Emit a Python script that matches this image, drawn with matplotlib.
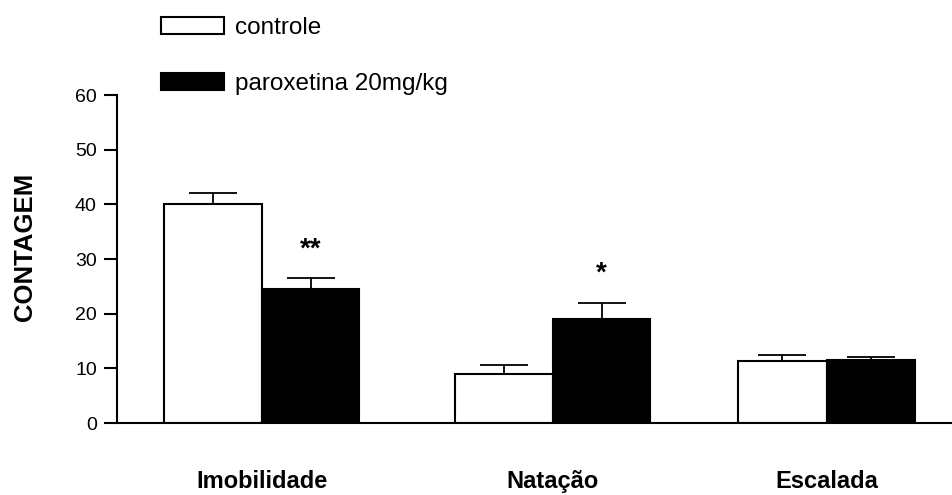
import matplotlib
matplotlib.use('Agg')
import matplotlib.pyplot as plt
import numpy as np

plt.rcParams['font.family'] = ['Liberation Sans', 'DejaVu Sans']

# dados
grupos = ['Imobilidade', 'Natação', 'Escalada']
controle = [40, 9, 11.3]
controle_ep = [2.1, 1.6, 1.1]
paroxetina = [24.5, 19, 11.5]
paroxetina_ep = [2.0, 3.0, 0.6]
signif = ['**', '*', '']
legendas = ['controle', 'paroxetina 20mg/kg']
yticks = [0, 10, 20, 30, 40, 50, 60]

# posicoes dos grupos e largura das barras
pos = np.array([0, 1, 1.94])
larg = np.array([0.335, 0.335, 0.305])

fig = plt.figure(figsize=(9.52, 4.95), dpi=100)
ax = fig.add_axes([117/952, 1-423/495, 1-117/952, 328/495])

zeros = np.zeros(len(grupos))
b1 = ax.bar(pos - larg/2, controle, width=larg, color='white', edgecolor='black',
            linewidth=1.5, label=legendas[0])
b2 = ax.bar(pos + larg/2, paroxetina, width=larg, color='black', edgecolor='black',
            linewidth=1.5, label=legendas[1])
ax.errorbar(pos - larg/2, controle, yerr=[zeros, controle_ep], fmt='none',
            ecolor='black', elinewidth=1.3, capsize=17, capthick=1.3)
ax.errorbar(pos + larg/2, paroxetina, yerr=[zeros, paroxetina_ep], fmt='none',
            ecolor='black', elinewidth=1.3, capsize=17, capthick=1.3)

for i in range(len(grupos)):
    if signif[i]:
        ax.text(pos[i] + larg[i]/2, paroxetina[i] + paroxetina_ep[i] + 4.0, signif[i],
                ha='center', va='baseline', fontsize=20, fontweight='bold')

ax.set_xlim(-0.498, 2.371)
ax.set_ylim(0, 60)
ax.set_yticks(yticks)
ax.set_yticklabels([str(t) for t in yticks], fontsize=14)
ax.set_xticks(pos)
ax.set_xticklabels(grupos, fontsize=17, fontweight='bold')
ax.tick_params(axis='x', length=0, pad=34)
ax.tick_params(axis='y', direction='out', length=9.5, width=1.5, pad=5)

for s in ['top', 'right']:
    ax.spines[s].set_visible(False)
ax.spines['left'].set_linewidth(1.5)
ax.spines['bottom'].set_linewidth(1.5)

ax.set_ylabel('CONTAGEM', fontsize=18.5, fontweight='bold')
ax.yaxis.label.set_va('center')
ax.yaxis.set_label_coords((25-117)/835, (423-247)/328)

fig.legend(handles=[b1, b2], labels=legendas, loc='upper left',
           bbox_to_anchor=(161/952, 1-17/495), frameon=False, fontsize=17.5,
           handlelength=2.6, handleheight=0.7, handletextpad=0.45,
           labelspacing=1.4, borderpad=0, borderaxespad=0)

fig.savefig('out.png', dpi=100)
